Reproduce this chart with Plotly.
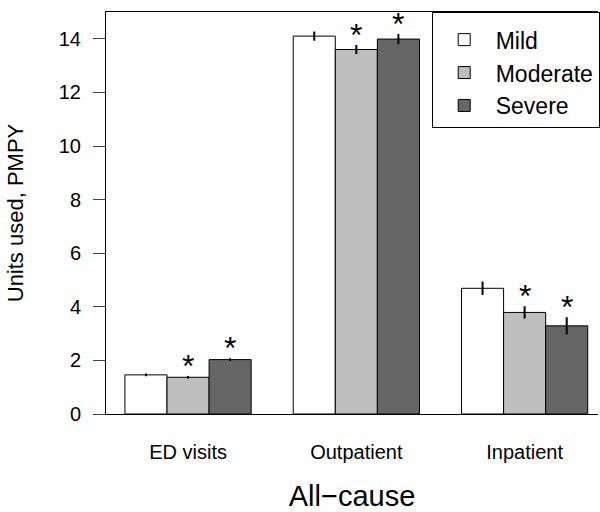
import plotly.graph_objects as go

categories = ["ED visits", "Outpatient", "Inpatient"]
severity = ["Mild", "Moderate", "Severe"]
mild = [1.46, 14.10, 4.69]
moderate = [1.37, 13.60, 3.79]
severe = [2.03, 13.99, 3.29]
mild_err = [0.05, 0.17, 0.25]
moderate_err = [0.05, 0.17, 0.23]
severe_err = [0.05, 0.19, 0.32]
moderate_sig = [True, True, True]
severe_sig = [True, True, True]
y_ticks = [0, 2, 4, 6, 8, 10, 12, 14]

colors = ["#ffffff", "#bebebe", "#666666"]
values = [mild, moderate, severe]
errs = [mild_err, moderate_err, severe_err]
sigs = [[False] * 3, moderate_sig, severe_sig]

FONT = "Liberation Sans, Arial, Helvetica, sans-serif"

fig = go.Figure()
for name, vals, err, col in zip(severity, values, errs, colors):
    fig.add_trace(go.Bar(
        x=categories, y=vals, name=name,
        marker=dict(color=col, line=dict(color="black", width=1)),
        error_y=dict(type="data", array=err, visible=True, color="black",
                     thickness=2, width=0),
    ))

offsets = [-0.25, 0.0, 0.25]
for k in range(3):
    for i in range(3):
        if sigs[k][i]:
            fig.add_annotation(
                x=i + offsets[k], y=values[k][i] + errs[k][i],
                xref="x", yref="y", text="*", showarrow=False,
                yanchor="middle", yshift=10,
                font=dict(family=FONT, size=32, color="black"),
            )

fig.update_layout(
    width=600, height=512,
    margin=dict(l=106, r=0, t=12, b=98),
    paper_bgcolor="white", plot_bgcolor="white",
    barmode="group", bargap=0.25, bargroupgap=0,
    font=dict(family=FONT, size=20, color="black"),
    legend=dict(
        x=0.662, y=1, xanchor="left", yanchor="top",
        bordercolor="black", borderwidth=1, bgcolor="white",
        font=dict(size=23), itemwidth=53,
        title=dict(text=" ", font=dict(size=4)),
    ),
    xaxis=dict(
        range=[-0.4875, 2.436], showline=True, mirror=True,
        linecolor="black", linewidth=1, ticks="", showgrid=False,
        tickfont=dict(size=20), ticklabelstandoff=20, automargin=False,
        title=dict(text="All\u2212cause", font=dict(size=29), standoff=30),
    ),
    yaxis=dict(
        range=[0, 15], showline=True, mirror=False,
        linecolor="black", linewidth=1, ticks="outside", ticklen=12,
        tickvals=y_ticks, showgrid=False, zeroline=False,
        tickfont=dict(size=20), ticklabelstandoff=8, automargin=False,
        title=dict(text="Units used, PMPY", font=dict(size=22), standoff=29),
    ),
)

fig.write_html(
    "out.html",
    config={"displayModeBar": False},
    post_script="document.body.style.margin='0px';document.body.style.overflow='hidden';",
)
